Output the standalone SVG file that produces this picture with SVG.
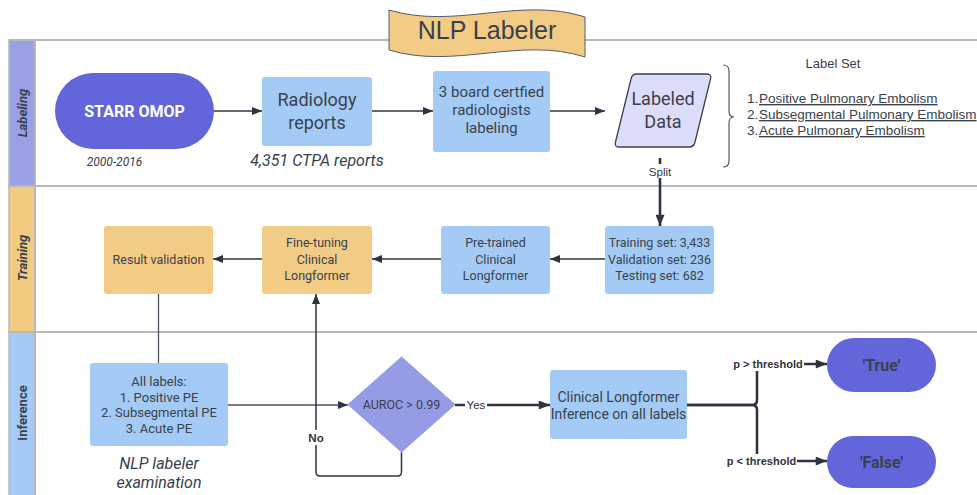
<svg xmlns="http://www.w3.org/2000/svg" width="977" height="495" viewBox="0 0 977 495">
<defs>
<marker id="arr" viewBox="0 0 10 8" refX="10" refY="4" markerWidth="11" markerHeight="8" markerUnits="userSpaceOnUse" orient="auto">
<path d="M0,0 L10,4 L0,8 Z" fill="#2f3540"/>
</marker>
<marker id="arrb" viewBox="0 0 10 8" refX="10" refY="4" markerWidth="12" markerHeight="9" markerUnits="userSpaceOnUse" orient="auto">
<path d="M0,0 L10,4 L0,8 Z" fill="#2f3540"/>
</marker>
</defs>
<style>
.lane{stroke:#b8b8b8;stroke-width:2;}
.hdr{stroke:#b8b8b8;stroke-width:1.5;}
.blue{fill:#a3cbf5;}
.orange{fill:#f2cc85;}
.pill{fill:#6366db;}
.t{font-family:Roboto,"Liberation Sans",sans-serif;fill:#3a414c;text-anchor:middle;}
.ls{font-family:"Liberation Sans",Arial,sans-serif;fill:#3a414c;}
.w{fill:#ffffff;}
.c{fill:none;stroke:#2f3540;stroke-width:1.5;}
.ck{fill:none;stroke:#2f3540;stroke-width:2.6;}
.g{fill:none;stroke:#4d5360;stroke-width:1.3;}
.lbl{font-family:"Liberation Sans",Arial,sans-serif;fill:#2f3540;text-anchor:middle;}
</style>
<rect x="0" y="0" width="977" height="495" fill="#ffffff"/>

<g id="lanes">
<rect x="9" y="40" width="26" height="146" fill="#9aa0e6" class="hdr"/>
<rect x="9" y="186" width="26" height="146" fill="#f2cb80" class="hdr"/>
<rect x="9" y="332" width="26" height="170" fill="#a3cbf5" class="hdr"/>
<line x1="9" y1="40" x2="977" y2="40" class="lane"/>
<line x1="9" y1="186" x2="977" y2="186" class="lane"/>
<line x1="9" y1="332" x2="977" y2="332" class="lane"/>
<line x1="35" y1="40" x2="35" y2="495" class="lane" stroke-width="1.5"/>
<text transform="translate(27,113) rotate(-90)" class="t" font-size="13" font-weight="bold" font-style="italic" fill="#2b3038">Labeling</text>
<text transform="translate(27,258) rotate(-90)" class="t" font-size="13" font-weight="bold" font-style="italic" fill="#2b3038">Training</text>
<text transform="translate(27,413) rotate(-90)" class="t" font-size="13" font-weight="bold" fill="#2b3038">Inference</text>
</g>

<g id="title">
<path d="M389,10 C455,30 520,-4 585,17 L585,57 C520,36 455,70 389,50 Z" fill="#f2cc85" stroke="#555b66" stroke-width="1"/>
<text x="487" y="39" class="ls" font-size="25" text-anchor="middle">NLP Labeler</text>
</g>

<g id="connectors">
<path d="M214,111 H262" class="c" marker-end="url(#arr)"/>
<path d="M372,111 H433" class="c" marker-end="url(#arr)"/>
<path d="M550,111 H605" class="c" marker-end="url(#arr)"/>
<path d="M660,158 V226" class="ck" marker-end="url(#arrb)"/>
<path d="M605,259 H550" class="c" marker-end="url(#arr)"/>
<path d="M441,259 H372" class="c" marker-end="url(#arr)"/>
<path d="M262,259 H213" class="c" marker-end="url(#arr)"/>
<path d="M158.5,294 V363" class="g"/>
<path d="M228,405 H348" class="g" marker-end="url(#arr)"/>
<path d="M401.5,452 V472 Q401.5,476 397.5,476 H320 Q316,476 316,472 V294" class="c" marker-end="url(#arr)"/>
<path d="M455,405 H550" class="ck" marker-end="url(#arrb)"/>
<path d="M687,405 H752 Q757,405 757,400 V364 H827" class="ck" marker-end="url(#arrb)"/>
<path d="M687,405 H752 Q757,405 757,410 V461 H827" class="ck" marker-end="url(#arrb)"/>
<rect x="646" y="164" width="28" height="14" fill="#ffffff"/>
<text x="660" y="175.5" class="lbl" font-size="11.5" fill="#3a414c">Split</text>
<rect x="306" y="430" width="20" height="15" fill="#ffffff"/>
<text x="316" y="442" class="lbl" font-size="11.5" font-weight="bold">No</text>
<rect x="465" y="398" width="22" height="14" fill="#ffffff"/>
<text x="476" y="409" class="lbl" font-size="11.5" fill="#3a414c">Yes</text>
<rect x="733" y="357" width="71" height="14" fill="#ffffff"/>
<text x="768" y="368" class="lbl" font-size="11" font-weight="bold">p &gt; threshold</text>
<rect x="726" y="454" width="71" height="14" fill="#ffffff"/>
<text x="761.5" y="465" class="lbl" font-size="11" font-weight="bold">p &lt; threshold</text>
</g>

<g id="starr">
<rect x="55" y="73" width="159" height="76" rx="38" class="pill"/>
<text x="134.5" y="117" class="t w" font-size="16" font-weight="bold" fill="#ffffff">STARR OMOP</text>
<text x="114.5" y="166" class="t" font-size="12" font-style="italic" fill="#1f2328">2000-2016</text>
</g>

<g id="radiology">
<rect x="262" y="77" width="110" height="69" rx="3" class="blue"/>
<text x="317" y="106" class="t" font-size="18">Radiology</text>
<text x="317" y="129" class="t" font-size="18">reports</text>
<text x="317" y="166" class="t" font-size="16" font-style="italic" fill="#1f2328">4,351 CTPA reports</text>
</g>

<g id="radiologists">
<rect x="433" y="71" width="117" height="81" rx="3" class="blue"/>
<text x="491.5" y="97" class="t" font-size="15">3 board certfied</text>
<text x="491.5" y="115" class="t" font-size="15">radiologists</text>
<text x="491.5" y="133" class="t" font-size="15">labeling</text>
</g>

<g id="labeled-data">
<path d="M637,74 H707 Q712,74 710.5,79 L695,142 Q694,147 689,147 H619 Q614,147 615.5,142 L631,79 Q632,74 637,74 Z" fill="#dcdcfb" stroke="#3a414c" stroke-width="1.3"/>
<text x="663" y="105" class="t" font-size="18">Labeled</text>
<text x="663" y="128" class="t" font-size="18">Data</text>
</g>

<g id="label-set">
<path d="M723,65 Q729,65 729,71 V111 Q729,117 734,117 Q729,117 729,123 V161 Q729,167 723,167" fill="none" stroke="#555b66" stroke-width="1.2"/>
<text x="833" y="68" class="ls" font-size="13" text-anchor="middle">Label Set</text>
<text x="747" y="103" class="ls" font-size="13.5">1.<tspan x="759" text-decoration="underline">Positive Pulmonary Embolism</tspan></text>
<text x="747" y="119" class="ls" font-size="13.5">2.<tspan x="759" text-decoration="underline">Subsegmental Pulmonary Embolism</tspan></text>
<text x="747" y="135" class="ls" font-size="13.5">3.<tspan x="759" text-decoration="underline">Acute Pulmonary Embolism</tspan></text>
</g>

<g id="result-validation">
<rect x="104" y="226" width="109" height="68" rx="3" class="orange"/>
<text x="158.5" y="264" class="t" font-size="12.5">Result validation</text>
</g>

<g id="fine-tuning">
<rect x="262" y="226" width="110" height="68" rx="3" class="orange"/>
<text x="317" y="247" class="t" font-size="12.5">Fine-tuning</text>
<text x="317" y="263.5" class="t" font-size="12.5">Clinical</text>
<text x="317" y="280" class="t" font-size="12.5">Longformer</text>
</g>

<g id="pretrained">
<rect x="441" y="226" width="109" height="68" rx="3" class="blue"/>
<text x="495.5" y="247" class="t" font-size="12.5">Pre-trained</text>
<text x="495.5" y="263.5" class="t" font-size="12.5">Clinical</text>
<text x="495.5" y="280" class="t" font-size="12.5">Longformer</text>
</g>

<g id="split-sets">
<rect x="605" y="226" width="109" height="68" rx="3" class="blue"/>
<text x="659.5" y="247" class="t" font-size="12.5">Training set: 3,433</text>
<text x="659.5" y="263.5" class="t" font-size="12.5">Validation set: 236</text>
<text x="659.5" y="280" class="t" font-size="12.5">Testing set: 682</text>
</g>

<g id="all-labels">
<rect x="90" y="363" width="138" height="83" rx="3" class="blue"/>
<text x="159" y="386" class="t" font-size="13">All labels:</text>
<text x="159" y="401.5" class="t" font-size="13">1. Positive PE</text>
<text x="159" y="417" class="t" font-size="13">2. Subsegmental PE</text>
<text x="159" y="432.5" class="t" font-size="13">3. Acute PE</text>
<text x="159" y="469" class="t" font-size="16" font-style="italic" fill="#1f2328">NLP labeler</text>
<text x="159" y="488" class="t" font-size="16" font-style="italic" fill="#1f2328">examination</text>
</g>

<g id="auroc">
<path d="M401.5,357 L455,404.5 L401.5,452 L348,404.5 Z" fill="#959ce6" stroke="#959ce6" stroke-width="1" stroke-linejoin="round"/>
<text x="401.5" y="409" class="t" font-size="12.5" fill="#ffffff">AUROC &gt; 0.99</text>
</g>

<g id="inference">
<rect x="550" y="370" width="137" height="69" rx="3" class="blue"/>
<text x="618.5" y="402" class="t" font-size="14">Clinical Longformer</text>
<text x="618.5" y="419" class="t" font-size="14">Inference on all labels</text>
</g>

<g id="true">
<rect x="827" y="338" width="109" height="54" rx="27" class="pill"/>
<text x="881.5" y="371" class="t" font-size="16" font-weight="bold" fill="#ffffff">'True'</text>
</g>

<g id="false">
<rect x="827" y="436" width="109" height="52" rx="26" class="pill"/>
<text x="881.5" y="468" class="t" font-size="16" font-weight="bold" fill="#ffffff">'False'</text>
</g>
</svg>
